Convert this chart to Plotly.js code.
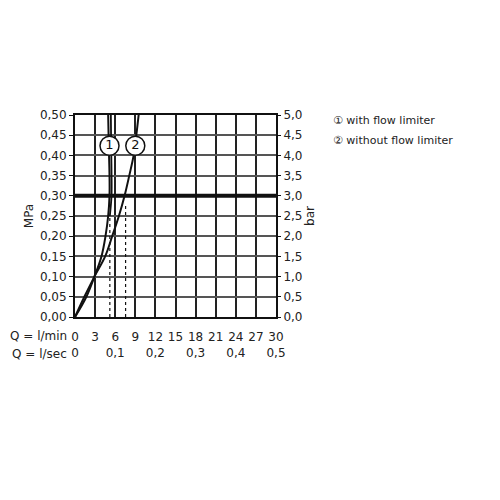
<!DOCTYPE html>
<html><head><meta charset="utf-8">
<script src="https://cdn.plot.ly/plotly-3.0.1.min.js"></script>
<style>body{margin:0;background:#fff}#c{width:500px;height:500px}</style>
</head><body><div id="c"></div>
<script>
// Flow in l/min
const flowTicks = [0,3,6,9,12,15,18,21,24,27,30];
const secLabels = {0:"0",6:"0,1",12:"0,2",18:"0,3",24:"0,4",30:"0,5"};
const mpaTicks = [0,0.05,0.10,0.15,0.20,0.25,0.30,0.35,0.40,0.45,0.50];
const barTicks = [0,0.5,1,1.5,2,2.5,3,3.5,4,4.5,5];
// Curve 1: with flow limiter (inner line)
const c1Flow = [0,1.7,2.9,3.95,4.55,4.95,5.15,5.15,5.05,4.95];
const c1Pres = [0,0.05,0.10,0.15,0.20,0.25,0.30,0.35,0.42,0.50];
// Curve 1: with flow limiter (outer line)
const c1bFlow = [5.2,5.45,5.45,5.4,5.35];
const c1bPres = [0.25,0.30,0.36,0.42,0.50];
// Curve 2: without flow limiter
const c2Flow = [0,1.4,2.9,4.5,5.55,6.55,7.4,8.1,8.75,9.15,9.5];
const c2Pres = [0,0.05,0.10,0.15,0.20,0.25,0.30,0.35,0.40,0.45,0.50];
// Dashed drop lines
const dashFlow = [5.2, 7.55];
const dashTop = [0.25, 0.28];
// circled labels
const markFlow = [5.15, 9.0];
const markPres = [0.424, 0.424];
const markText = ["1","2"];
const legendText = ["① with flow limiter","② without flow limiter"];

const fmt = v => v.toFixed(2).replace('.',',');
const fmt1 = v => v.toFixed(1).replace('.',',');
const font = {family:"DejaVu Sans", size:12, color:"#222"};

const traces = [
  {x:c1Flow,y:c1Pres,mode:'lines',line:{color:'#111',width:2,shape:'spline',smoothing:1},hoverinfo:'none'},
  {x:c1bFlow,y:c1bPres,mode:'lines',line:{color:'#111',width:1.8,shape:'spline',smoothing:1},hoverinfo:'none'},
  {x:c2Flow,y:c2Pres,mode:'lines',line:{color:'#111',width:2,shape:'spline',smoothing:1},hoverinfo:'none'},
];
dashFlow.forEach((f,i)=>traces.push({x:[f,f],y:[0,dashTop[i]],mode:'lines',line:{color:'#111',width:1.2,dash:'3px,3px'},hoverinfo:'none'}));
traces.push({x:[0,30],y:[0.30,0.30],mode:'lines',line:{color:'#111',width:4},hoverinfo:'none'});
traces.push({x:markFlow,y:markPres,mode:'markers+text',text:markText,textposition:'middle center',
  textfont:{family:"DejaVu Sans",size:13,color:'#111'},
  marker:{symbol:'circle',size:19,color:'#fff',line:{color:'#111',width:1.5}},hoverinfo:'none'});
traces.push({x:[0,5],y:[0,5],yaxis:'y2',mode:'markers',marker:{opacity:0},hoverinfo:'none'});

const layout = {
  width:500,height:500,showlegend:false,
  paper_bgcolor:'#fff',plot_bgcolor:'#fff',
  margin:{l:75,r:224,t:115,b:183},
  font:font,
  xaxis:{range:[0,30],tickvals:flowTicks,
    ticktext:flowTicks.map(v=>v+"<br>"+(secLabels[v]!==undefined?secLabels[v]:" ")),
    showgrid:true,gridcolor:'#222',gridwidth:2,zeroline:false,ticklabelstandoff:8,
    showline:true,linecolor:'#111',linewidth:2,mirror:true,ticks:'',tickfont:font,fixedrange:true},
  yaxis:{range:[0,0.5],tickvals:mpaTicks,ticktext:mpaTicks.map(fmt),
    showgrid:true,gridcolor:'#555',gridwidth:2,zeroline:false,
    showline:true,linecolor:'#111',linewidth:2,mirror:true,ticks:'outside',ticklen:4,tickcolor:'#111',
    title:{text:'MPa',font:{family:"DejaVu Sans",size:12,color:'#222'},standoff:4},tickfont:font},
  yaxis2:{range:[0,5],overlaying:'y',side:'right',tickvals:barTicks,ticktext:barTicks.map(fmt1),
    showgrid:false,zeroline:false,showline:false,ticks:'outside',ticklen:4,tickcolor:'#111',
    title:{text:'bar',font:{family:"DejaVu Sans",size:12,color:'#222'},standoff:4},tickfont:font},
  annotations:[
    {text:'Q = l/min',xref:'paper',yref:'paper',x:0,y:0,xanchor:'right',yanchor:'top',yshift:-10,xshift:-6,showarrow:false,font:font},
    {text:'Q = l/sec',xref:'paper',yref:'paper',x:0,y:0,xanchor:'right',yanchor:'top',yshift:-28,xshift:-6,showarrow:false,font:font},
    {text:legendText[0],xref:'paper',yref:'paper',x:1,y:1,xanchor:'left',yanchor:'middle',xshift:55,yshift:-5,showarrow:false,font:{family:"DejaVu Sans",size:11,color:'#222'}},
    {text:legendText[1],xref:'paper',yref:'paper',x:1,y:1,xanchor:'left',yanchor:'middle',xshift:55,yshift:-25,showarrow:false,font:{family:"DejaVu Sans",size:11,color:'#222'}}
  ]
};
Plotly.newPlot('c',traces,layout,{staticPlot:true});
</script></body></html>
